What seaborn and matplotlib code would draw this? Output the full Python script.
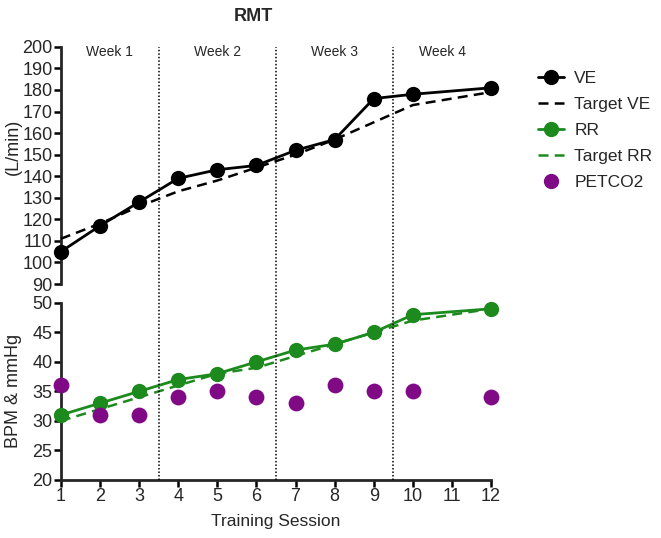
#!/usr/bin/env python3
# plot.py - RMT training sessions, two-segment y axis

import numpy as np
import pandas as pd
import matplotlib.pyplot as plt
from matplotlib.lines import Line2D
import seaborn as sns

sns.set_theme(style="ticks")
plt.rcParams["font.family"] = ["Liberation Sans", "DejaVu Sans"]

# data
sessions = [1, 2, 3, 4, 5, 6, 7, 8, 9, 10, 12]
ve = [105, 117, 128, 139, 143, 145, 152, 157, 176, 178, 181]
target_ve = [111, 118, 126, 133, 138, 144, 150, 157, 165, 173, 179]
rr = [31, 33, 35, 37, 38, 40, 42, 43, 45, 48, 49]
target_rr = [30, 32, 34, 36, 38, 39, 41, 43, 45, 47, 49]
petco2 = [36, 31, 31, 34, 35, 34, 33, 36, 35, 35, 34]

week_labels = ["Week 1", "Week 2", "Week 3", "Week 4"]
week_bounds = [3.5, 6.5, 9.5]

df = pd.DataFrame({"Session": sessions, "VE": ve, "Target VE": target_ve,
                   "RR": rr, "Target RR": target_rr, "PETCO2": petco2})

green = "#1c8a1c"
purple = "#800a86"

fig = plt.figure(figsize=(6.61, 5.38), dpi=100)
left, width = 0.092, 0.651
ax_top = fig.add_axes([left, 0.472, width, 0.441])
ax_bot = fig.add_axes([left, 0.108, width, 0.329])
ax_top.set_zorder(2)
for ax in (ax_top, ax_bot):
    ax.patch.set_alpha(0)

# top panel: VE
sns.lineplot(data=df, x="Session", y="VE", ax=ax_top, color="black", lw=2,
             marker="o", markersize=11, markeredgewidth=0, label="VE", clip_on=False, zorder=4)
sns.lineplot(data=df, x="Session", y="Target VE", ax=ax_top, color="black", lw=1.8,
             linestyle=(0, (4, 2.5)), label="Target VE", clip_on=False, zorder=3)

# bottom panel: RR and PETCO2
sns.lineplot(data=df, x="Session", y="RR", ax=ax_bot, color=green, lw=2,
             marker="o", markersize=11, markeredgewidth=0, label="RR", clip_on=False, zorder=4)
sns.lineplot(data=df, x="Session", y="Target RR", ax=ax_bot, color=green, lw=1.8,
             linestyle=(0, (4, 2.5)), label="Target RR", clip_on=False, zorder=3)
sns.scatterplot(data=df, x="Session", y="PETCO2", ax=ax_bot, color=purple, s=130,
                linewidth=0, label="PETCO2", clip_on=False, zorder=4)

for ax in (ax_top, ax_bot):
    ax.set_xlim(1, 12)
    ax.legend_.remove()
    for s in ("top", "right"):
        ax.spines[s].set_visible(False)
    ax.spines["left"].set_linewidth(2)
    ax.spines["bottom"].set_linewidth(2)
    ax.tick_params(direction="out", length=5, width=1.8, labelsize=13, pad=1, color="black")

ax_top.set_ylim(90, 200)
ax_top.set_yticks(np.arange(90, 201, 10))
ax_top.spines["bottom"].set_visible(False)
ax_top.tick_params(axis="x", bottom=False, labelbottom=False)
ax_top.set_xlabel("")
ax_top.set_ylabel("(L/min)", fontsize=13)
ax_top.yaxis.set_label_coords(-0.09, 0.58)

ax_bot.set_ylim(20, 50)
ax_bot.set_yticks(np.arange(20, 51, 5))
ax_bot.set_xticks(range(1, 13))
ax_bot.set_xlabel("Training Session", fontsize=12.5, labelpad=6)
ax_bot.set_ylabel("BPM & mmHg", fontsize=13)
ax_bot.yaxis.set_label_coords(-0.09, 0.5)

# week separators run through both panels
top_pos = ax_top.get_position()
bot_pos = ax_bot.get_position()
ymin_frac = (bot_pos.y0 - top_pos.y0) / top_pos.height
for b in week_bounds:
    ax_top.axvline(b, ymin=ymin_frac, ymax=1, color="black", lw=1.1,
                   linestyle=(0, (1, 1.3)), clip_on=False, zorder=1)

edges = [1] + week_bounds + [12]
for i, lab in enumerate(week_labels):
    ax_top.text((edges[i] + edges[i + 1]) / 2, 197.5, lab, ha="center", va="center", fontsize=10)

fig.suptitle("RMT", fontsize=13, fontweight="bold", x=0.383, y=0.985)

handles = [
    Line2D([], [], color="black", lw=2, marker="o", markersize=11, markeredgewidth=0),
    Line2D([], [], color="black", lw=1.8, linestyle=(0, (4, 2.5))),
    Line2D([], [], color=green, lw=2, marker="o", markersize=11, markeredgewidth=0),
    Line2D([], [], color=green, lw=1.8, linestyle=(0, (4, 2.5))),
    Line2D([], [], color=purple, lw=0, marker="o", markersize=11, markeredgewidth=0),
]
fig.legend(handles, ["VE", "Target VE", "RR", "Target RR", "PETCO2"],
           loc="upper left", bbox_to_anchor=(0.79, 0.897), frameon=False,
           fontsize=12.5, handlelength=1.5, labelspacing=0.62, handletextpad=0.6)

fig.savefig("out.png", dpi=100)
plt.close(fig)
